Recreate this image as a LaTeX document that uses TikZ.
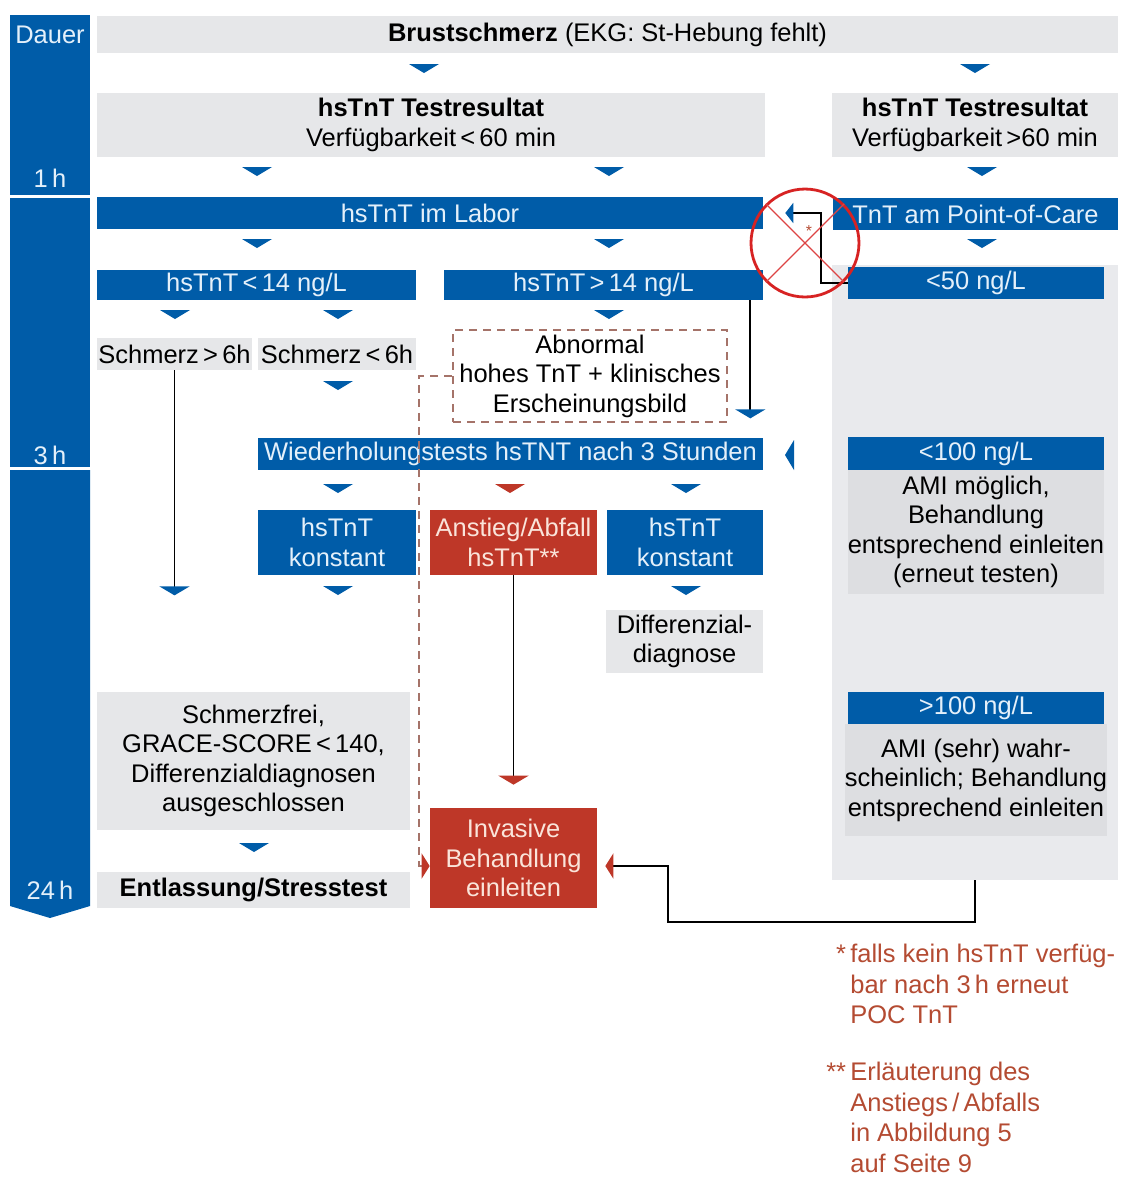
\documentclass[tikz,border=0pt]{standalone}
\usepackage{fontspec}
\setmainfont{Liberation Sans}
\usetikzlibrary{arrows.meta}

\definecolor{blau}{RGB}{0,92,168}
\definecolor{blautext}{RGB}{228,240,250}
\definecolor{hgrau}{RGB}{230,231,233}
\definecolor{sgrau}{RGB}{233,234,237}
\definecolor{dgrau}{RGB}{221,222,225}
\definecolor{rot}{RGB}{190,55,40}
\definecolor{rottext}{RGB}{250,228,218}
\definecolor{braun}{RGB}{165,115,105}
\definecolor{fussrot}{RGB}{180,75,50}
\definecolor{kreisrot}{RGB}{215,35,35}

\tikzset{kopf/.pic={\fill[#1] (-15,-4) -- (15,-4) -- (0,5) -- cycle;}}

\begin{document}
\begin{tikzpicture}[x=0.02cm, y=-0.02cm]

% Define styles
\tikzstyle{feld} = [rectangle, inner sep=0pt, align=center, font=\fontsize{14.5}{16.8}\selectfont]
\tikzstyle{grau} = [feld, fill=hgrau, text=black]
\tikzstyle{blaubox} = [feld, fill=blau, text=blautext]
\tikzstyle{rotbox} = [feld, fill=rot, text=rottext]
\tikzstyle{zeit} = [feld, text=blautext]
\tikzstyle{linie} = [line width=1.1pt, black]
\tikzstyle{strich} = [line width=1.1pt, braun, dash pattern=on 0.16cm off 0.12cm]
\tikzstyle{fuss} = [anchor=north west, inner sep=0pt, align=left, text=fussrot, font=\fontsize{14.5}{17.4}\selectfont]

\useasboundingbox (0,0) rectangle (1123,1178);

% Time bar
\node[fill=blau, minimum width=1.6cm, minimum height=3.6cm, inner sep=0] (dauer1) at (50,105) {};
\node[fill=blau, minimum width=1.6cm, minimum height=5.38cm, inner sep=0] (dauer2) at (50,332.5) {};
\fill[blau] (10,470) -- (90,470) -- (90,906) -- (50,918) -- (10,906) -- cycle;
\node[zeit] (t0) at (50,35) {Dauer};
\node[zeit] (t1) at (50,178) {1\,h};
\node[zeit] (t3) at (50,455) {3\,h};
\node[zeit] (t24) at (50,890) {24\,h};

% Right column
\node[fill=sgrau, minimum width=5.72cm, minimum height=12.3cm, inner sep=0] (spalte) at (975,572.5) {};

% First rows
\node[grau, minimum width=20.42cm, minimum height=0.74cm] (schmerz) at (607.5,34.5) {\textbf{Brustschmerz} (EKG: St-Hebung fehlt)};
\node[grau, minimum width=13.36cm, minimum height=1.28cm] (res1) at (431,125) {\textbf{hsTnT Testresultat}\\Verfügbarkeit\,<\,60 min};
\node[grau, minimum width=5.72cm, minimum height=1.28cm] (res2) at (975,125) {\textbf{hsTnT Testresultat}\\Verfügbarkeit\,>60 min};
\node[blaubox, minimum width=13.32cm, minimum height=0.64cm] (labor) at (430,213) {hsTnT im Labor};
\node[blaubox, minimum width=5.7cm, minimum height=0.64cm] (poc) at (975.5,214) {TnT am Point-of-Care};

% Labor branch
\node[blaubox, minimum width=6.38cm, minimum height=0.6cm] (tief) at (256.5,285) {hsTnT\,<\,14 ng/L};
\node[blaubox, minimum width=6.38cm, minimum height=0.6cm] (hoch) at (603.5,285) {hsTnT\,>\,14 ng/L};
\node[blaubox, minimum width=5.12cm, minimum height=0.64cm] (lt50) at (976,283) {<50 ng/L};
\node[grau, minimum width=3.1cm, minimum height=0.64cm] (gt6) at (174.5,354) {Schmerz\,>\,6h};
\node[grau, minimum width=3.16cm, minimum height=0.64cm] (lt6) at (337,354) {Schmerz\,<\,6h};
\node[feld, draw=braun, line width=1.1pt, dash pattern=on 0.16cm off 0.12cm, minimum width=5.48cm, minimum height=1.84cm] (abn) at (590,376) {Abnormal\\hohes TnT + klinisches\\Erscheinungsbild};

% Second test
\node[blaubox, minimum width=10.1cm, minimum height=0.64cm] (wdh) at (510.5,454) {Wiederholungstests hsTNT nach 3 Stunden};
\node[blaubox, minimum width=3.16cm, minimum height=1.3cm] (konst1) at (337,542.5) {hsTnT\\konstant};
\node[rotbox, minimum width=3.34cm, minimum height=1.3cm] (anst) at (513.5,542.5) {Anstieg/Abfall\\hsTnT**};
\node[blaubox, minimum width=3.12cm, minimum height=1.3cm] (konst2) at (685,542.5) {hsTnT\\konstant};
\node[grau, minimum width=3.14cm, minimum height=1.26cm] (diff) at (684.5,641.5) {Differenzial-\\diagnose};

% Bottom rows
\node[grau, minimum width=6.26cm, minimum height=2.76cm] (frei) at (253.5,761) {Schmerzfrei,\\GRACE-SCORE\,<\,140,\\Differenzialdiagnosen\\ausgeschlossen};
\node[grau, minimum width=6.26cm, minimum height=0.72cm] (entl) at (253.5,890) {\textbf{Entlassung/Stresstest}};
\node[rotbox, minimum width=3.34cm, minimum height=2cm] (inv) at (513.5,858) {Invasive\\Behandlung\\einleiten};

% POC results
\node[blaubox, minimum width=5.12cm, minimum height=0.66cm] (lt100) at (976,453.5) {<100 ng/L};
\node[grau, fill=dgrau, minimum width=5.12cm, minimum height=2.48cm] (ami1) at (976,532) {AMI möglich,\\Behandlung\\entsprechend einleiten\\(erneut testen)};
\node[blaubox, minimum width=5.12cm, minimum height=0.64cm] (gt100) at (976,708) {>100 ng/L};
\node[grau, fill=dgrau, minimum width=5.12cm, minimum height=2.24cm] (ami2) at (976,780) {AMI (sehr) wahr-\\scheinlich; Behandlung\\entsprechend einleiten};

% Arrow heads
\pic at (424,68) {kopf=blau};
\pic at (975,68) {kopf=blau};
\pic at (257,171) {kopf=blau};
\pic at (609,171) {kopf=blau};
\pic at (982,171) {kopf=blau};
\pic at (257,243) {kopf=blau};
\pic at (609,243) {kopf=blau};
\pic at (982,243) {kopf=blau};
\pic at (175,314) {kopf=blau};
\pic at (338,314) {kopf=blau};
\pic at (609,314) {kopf=blau};
\pic at (338,385) {kopf=blau};
\pic[rotate=-90] at (790,455) {kopf=blau};
\pic at (338,488) {kopf=blau};
\pic at (510,488) {kopf=rot};
\pic at (686,488) {kopf=blau};
\pic at (338,590) {kopf=blau};
\pic at (686,590) {kopf=blau};
\pic at (254,847) {kopf=blau};

% Arrows
\coordinate (knick) at (668,922);
\coordinate (k2) at (821,213);
\draw[linie, -{Triangle[width=0.6cm, length=0.18cm, color=blau]}] ([xshift=-0.26cm]hoch.south east) -- ++(0,118);
\draw[linie, -{Triangle[width=0.6cm, length=0.18cm, color=blau]}] (gt6.south) -- ++(0,225);
\draw[linie, -{Triangle[width=0.6cm, length=0.18cm, color=rot]}, shorten >=0.46cm] (anst) -- (inv);
\draw[strich, -{Triangle[width=0.5cm, length=0.16cm, color=rot]}] (abn.west) -- ++(-33,0) |- ([yshift=-0.16cm]inv.west);
\draw[linie, -{Triangle[width=0.5cm, length=0.16cm, color=rot]}, shorten >=0.16cm] (spalte.south) |- (knick) |- ([yshift=-0.16cm]inv.east);
\draw[linie, -{Triangle[width=0.4cm, length=0.16cm, color=blau]}, shorten >=0.44cm] (lt50.west) -| (k2) -- (labor.east);

% Crossed out
\node[circle, draw=kreisrot, line width=1.6pt, minimum size=2.16cm, inner sep=0] (verbot) at (805,243) {};
\draw[kreisrot!85, line width=0.7pt] (verbot.north west) -- (verbot.south east);
\draw[kreisrot!85, line width=0.7pt] (verbot.north east) -- (verbot.south west);
\node[text=fussrot, font=\small] (stern) at (809,231) {*};

% Footnotes
\node[fuss] (fn1) at (850,944) {\llap{*\,}falls kein hsTnT verfüg-\\bar nach 3\,h erneut\\POC TnT};
\node[fuss] (fn2) at (850,1062) {\llap{**\,}Erläuterung des\\Anstiegs\,/\,Abfalls\\in Abbildung 5\\auf Seite 9};

\end{tikzpicture}
\end{document}
